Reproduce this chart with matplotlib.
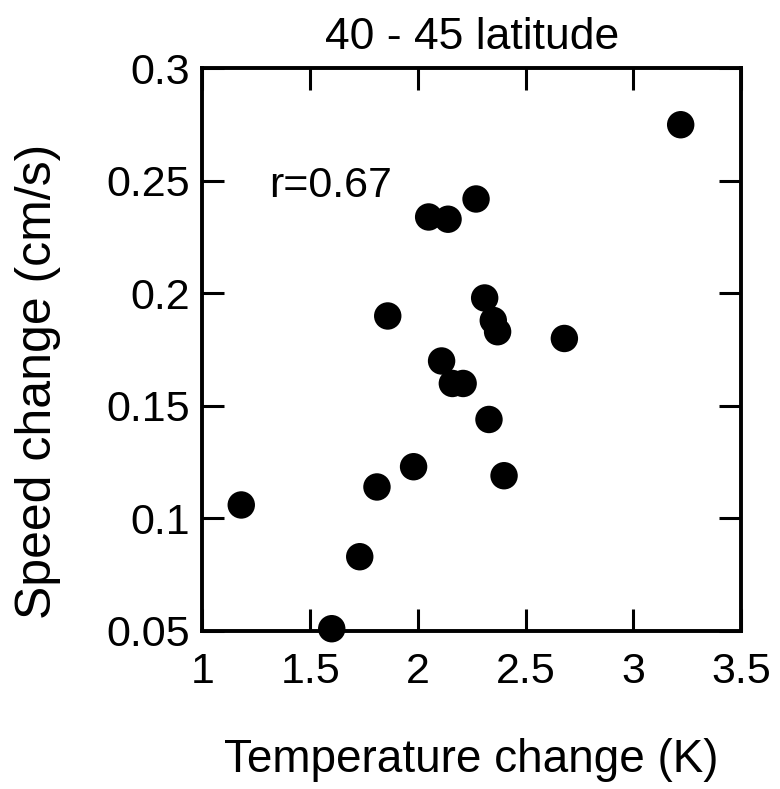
import matplotlib
matplotlib.use("Agg")
import matplotlib.pyplot as plt

# values
temp_change = [3.22, 2.27, 2.05, 2.14, 2.31, 2.35, 2.37, 2.68, 1.86, 2.11,
               2.16, 2.21, 2.33, 2.40, 1.98, 1.81, 1.18, 1.73, 1.60]
speed_change = [0.275, 0.242, 0.234, 0.233, 0.198, 0.188, 0.183, 0.180, 0.190, 0.170,
                0.160, 0.160, 0.144, 0.119, 0.123, 0.114, 0.106, 0.083, 0.051]

x_ticks = [1, 1.5, 2, 2.5, 3, 3.5]
x_tick_labels = ["1", "1.5", "2", "2.5", "3", "3.5"]
y_ticks = [0.05, 0.1, 0.15, 0.2, 0.25, 0.3]
y_tick_labels = ["0.05", "0.1", "0.15", "0.2", "0.25", "0.3"]

plt.rcParams['font.family'] = ['Liberation Sans', 'DejaVu Sans']

fig = plt.figure(figsize=(7.8, 7.89), dpi=100)
ax = fig.add_axes([0.2596, 0.2003, 0.6904, 0.7129])

ax.scatter(temp_change, speed_change, s=390, color='black', edgecolors='none', zorder=3,
           clip_on=False)

ax.set_xlim(1, 3.5)
ax.set_ylim(0.05, 0.3)
ax.set_xticks(x_ticks)
ax.set_xticklabels(x_tick_labels)
ax.set_yticks(y_ticks)
ax.set_yticklabels(y_tick_labels)

for side in ax.spines.values():
    side.set_linewidth(2.8)

ax.tick_params(direction='in', length=16, width=2.2, labelsize=31,
               top=True, right=True, color='black')
ax.tick_params(axis='x', pad=15)
ax.tick_params(axis='y', pad=9)

ax.text(1.31, 0.2428, "r=0.67", fontsize=31, ha='left', va='baseline')

ax.set_title("40 - 45 latitude", fontsize=32, pad=14)
ax.set_xlabel("Temperature change (K)", fontsize=33)
ax.set_ylabel("Speed change (cm/s)", fontsize=36)
ax.xaxis.set_label_coords(0.5, -0.19)
ax.yaxis.set_label_coords(-0.262, 0.443)

fig.savefig("out.png", dpi=100)
